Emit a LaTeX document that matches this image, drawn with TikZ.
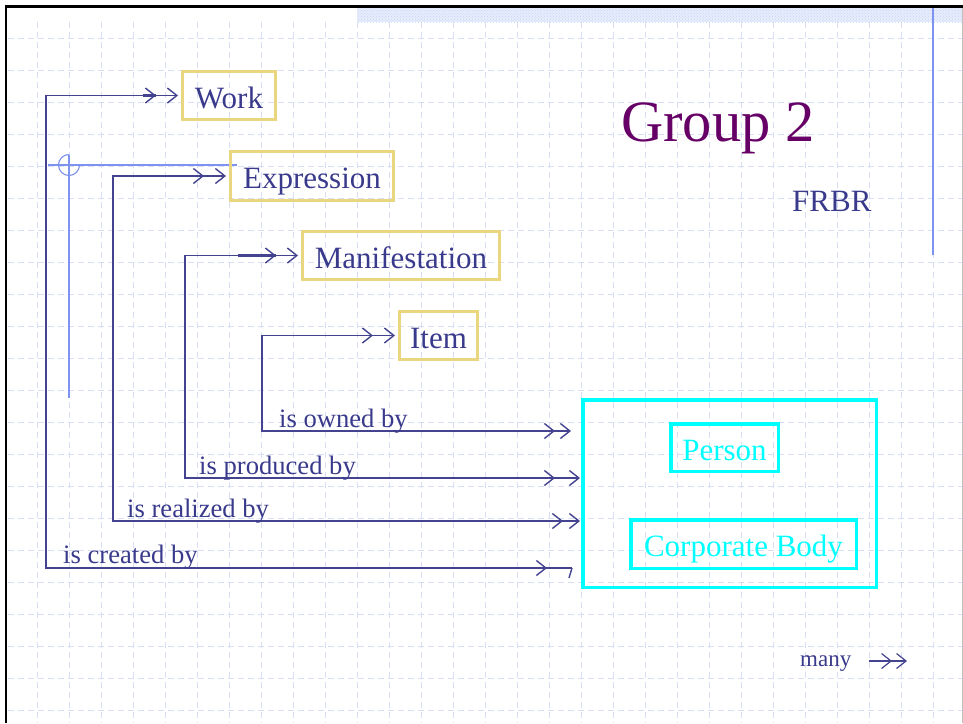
\documentclass[tikz,border=0pt]{standalone}
\usepackage{fontspec}
\setmainfont{Liberation Serif}
\usetikzlibrary{arrows.meta,patterns,decorations.markings}

\definecolor{inkblue}{HTML}{3A3A8C}
\definecolor{linkblue}{HTML}{43438F}
\definecolor{entityyellow}{HTML}{EAD67F}
\definecolor{agentcyan}{HTML}{00FFFF}
\definecolor{titlepurple}{HTML}{660066}
\definecolor{gridblue}{HTML}{D8DFF5}
\definecolor{guideblue}{HTML}{7E92F0}
\definecolor{bandblue}{HTML}{E6ECFB}
\definecolor{banddots}{HTML}{C8D5F6}

\tikzset{
  linkhead/.tip={Straight Barb[length=9.5pt,width=15pt]},
  link/.style={color=linkblue, line width=1.4pt},
  % inner arrowhead (and a heavier bit of shaft) a little before the end
  endmark/.style 2 args={postaction={decorate, decoration={markings,
      mark=at position -#1 with {\arrow{linkhead}\draw[-, line width=2.8pt] (-#2,0pt) -- (0pt,0pt);}}}},
  startmark/.style 2 args={postaction={decorate, decoration={markings,
      mark=at position #1 with {\arrowreversed{linkhead}\draw[-, line width=2.8pt] (0pt,0pt) -- (#2,0pt);}}}},
  boxtext/.style={font=\fontsize{31}{37}\selectfont, text height=25pt, text depth=0pt},
  entity/.style={boxtext, draw=entityyellow, line width=3pt, text=inkblue, inner sep=0pt,
      outer sep=4.5pt},
  agent/.style={boxtext, draw=agentcyan, line width=3.5pt, text=agentcyan, inner sep=0pt},
  rel/.style={text=inkblue, inner sep=0pt, anchor=base west, font=\fontsize{26.6}{30}\selectfont},
  gridline/.style={draw=gridblue, line width=0.9pt, dash pattern=on 6pt off 4pt},
}

\begin{document}
\begin{tikzpicture}[x=1pt, y=-1pt]
\useasboundingbox (0,0) rectangle (963,723);
\fill[white] (0,0) rectangle (963,723);

% background grid
\foreach \gx in {37,69,...,933} \draw[gridline] (\gx,22) -- (\gx,723);
\foreach \gy in {38,70,...,710} \draw[gridline] (8,\gy) -- (963,\gy);

% top band and rules
\fill[bandblue] (357,8) rectangle (963,22);
\fill[pattern=crosshatch dots, pattern color=banddots] (357,8) rectangle (963,22);
\draw[guideblue, line width=1.2pt] (933,8) -- (933,255);
\draw[black!25, line width=1pt] (962.5,8) -- (962.5,723);
\draw[black, line width=2.6pt, line join=miter] (6,723) -- (6,6.5) -- (963,6.5);

% crosshair guide
\draw[guideblue, line width=1.1pt] (48,165) -- (237,165);
\draw[guideblue, line width=1.1pt] (69,154.5) -- (69,398);
\draw[guideblue, line width=1.1pt] (79.5,165) arc[start angle=0, end angle=270, radius=10.5];

% titles
\node[text=titlepurple, inner sep=0pt, anchor=base west, font=\fontsize{58.5}{64}\selectfont]
  (title) at (621,141) {Group 2};
\node[text=inkblue, inner sep=0pt, anchor=base west, font=\fontsize{31}{37}\selectfont]
  (subtitle) at (792,211) {FRBR};

% group 1 entities
\node[entity, minimum width=93pt, minimum height=48pt] (work) at (229,95.5) {Work};
\node[entity, minimum width=163pt, minimum height=49pt] (expression) at (312,176) {Expression};
\node[entity, minimum width=197pt, minimum height=48pt] (manifestation) at (401,255.5) {Manifestation};
\node[entity, minimum width=78pt, minimum height=48pt] (item) at (438.5,335.5) {Item};

% group 2 entities
\node[draw=agentcyan, line width=3.5pt, inner sep=0pt, minimum width=293.5pt, minimum height=187.5pt]
  (agents) at (729.5,493.5) {};
\node[agent, minimum width=107.5pt, minimum height=47.5pt] (person) at (724.5,447.5) {Person};
\node[agent, minimum width=225.5pt, minimum height=48.5pt] (corporate) at (743.5,544) {Corporate Body};

% connector ends at the group 2 box
\coordinate (ownedEnd) at (571,431);
\coordinate (producedEnd) at (580,478);
\coordinate (realizedEnd) at (580,521);
\coordinate (createdEnd) at (572,568);

% relationships
\draw[link, {linkhead}-{linkhead}, startmark={22pt}{0pt}, endmark={16pt}{0pt}]
  (item.west) -| (262,431) -- (ownedEnd);
\draw[link, {linkhead}-{linkhead}, startmark={22pt}{38pt}, endmark={25pt}{22pt}]
  (manifestation.west) -| (185,478) -- (producedEnd);
\draw[link, {linkhead}-{linkhead}, startmark={22pt}{37pt}, endmark={17pt}{37pt}]
  (expression.west) -| (113,521) -- (realizedEnd);
\draw[link, {linkhead}-, startmark={22pt}{13pt}, endmark={25pt}{38pt}]
  (work.west) -| (46,568) -- (createdEnd);
\draw[link] (createdEnd) -- ++(-3,10);

\node[rel] (ownedLabel) at (279,427) {is owned by};
\node[rel] (producedLabel) at (199,474) {is produced by};
\node[rel] (realizedLabel) at (127,517) {is realized by};
\node[rel] (createdLabel) at (63,563) {is created by};

% legend
\node[text=inkblue, inner sep=0pt, anchor=base west, font=\fontsize{23}{27}\selectfont]
  (many) at (800,666) {many};
\coordinate (manyStart) at (869,661);
\coordinate (manyEnd) at (907,661);
\draw[link, line width=1.2pt, -{linkhead}, endmark={15pt}{0pt}] (manyStart) -- (manyEnd);
\end{tikzpicture}
\end{document}
